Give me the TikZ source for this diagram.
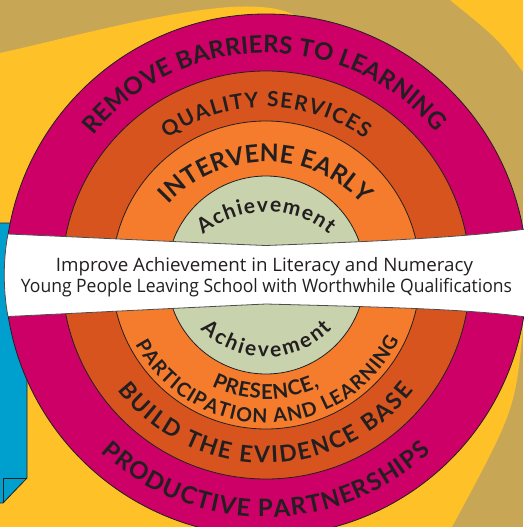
\documentclass[tikz,border=0pt]{standalone}
\usepackage{fontspec}
\usepackage{graphicx}
\usetikzlibrary{decorations.text}
\newfontfamily\ringfont{Lato}
\newfontfamily\bannerfont{Open Sans}

\definecolor{bgtan}{RGB}{199,166,86}
\definecolor{bgyellow}{RGB}{254,194,40}
\definecolor{magentaring}{RGB}{204,0,102}
\definecolor{rustring}{RGB}{216,84,30}
\definecolor{orangering}{RGB}{244,124,44}
\definecolor{sagecore}{RGB}{200,211,173}
\definecolor{tabblue}{RGB}{0,160,206}
\definecolor{ink}{RGB}{35,31,32}

% text set along an arc: centre, radius, start angle, end angle, size, text
\newcommand\ringtext[6]{%
  \path[decorate, decoration={text along path, text align=fit to path,
    text={|\ringfont\bfseries\fontsize{#5}{#5}\selectfont\color{ink}|#6}}]
    ([shift={(#3:#2)}]#1) arc[start angle=#3, end angle=#4, radius=#2];}

\begin{document}
\begin{tikzpicture}[x=1pt, y=1pt,
  ring/.style={draw=ink, line width=0.8pt},
  bannertext/.style={anchor=base, inner sep=0pt, text=ink}]
\useasboundingbox (0,0) rectangle (523,-527);

% centres of the rings and of the flatter text arcs
\coordinate (C) at (266,-275);
\coordinate (Cint) at (266,-295);
\coordinate (Ctop) at (266,-312);
\coordinate (Cbot) at (266,-265);

% background: tan sweep with yellow on both sides
\fill[bgtan] (0,0) rectangle (523,-527);
\fill[bgyellow] (450,0) .. controls (498,-39) .. (523,-72) -- (523,0) -- cycle;
\fill[bgyellow] (0,-53) .. controls (60,-40) and (160,-12) .. (230,-7)
  .. controls (265,-5) and (285,-9) .. (300,-18) -- (C) -- (523,-328)
  .. controls (515,-410) .. (452,-527) -- (0,-527) -- cycle;

% blue tab with folded corner
\draw[fill=tabblue, draw=ink, line width=0.8pt]
  (-2,-223) -- (27,-223) -- (27,-478) -- (3,-503) -- (-2,-503);
\draw[ink, line width=0.8pt] (27,-478) -- (3,-478) -- (3,-503);

% concentric rings
\draw[ring, fill=magentaring] (C) circle[radius=261];
\draw[ring, fill=rustring] (C) circle[radius=204];
\draw[ring, fill=orangering] (C) circle[radius=154];
\draw[ring, fill=sagecore] (C) circle[radius=99];

% white ribbon across the middle
\draw[fill=white, draw=ink!80, line width=0.8pt]
  (8,-234) .. controls (100,-238) and (200,-243) .. (266,-245.5)
  .. controls (360,-242) and (460,-238) .. (526,-229) -- (526,-317)
  .. controls (470,-309) and (380,-307) .. (266,-304)
  .. controls (200,-307) and (100,-312) .. (8,-316.5)
  .. controls (3,-290) and (3,-260) .. (8,-234) -- cycle;

\node[bannertext] (line1) at (264.5,-271)
  {\resizebox{417pt}{\height}{\bannerfont\fontsize{18.5}{18.5}\selectfont Improve Achievement in Literacy and Numeracy}};
\node[bannertext] (line2) at (266.5,-292)
  {\resizebox{491pt}{\height}{\bannerfont\fontsize{18.5}{18.5}\selectfont Young People Leaving School with Worthwhile Qualifications}};

% ring captions, upper half
\ringtext{C}{222}{141}{40}{24}{REMOVE BARRIERS TO LEARNING}
\ringtext{C}{168}{126}{54}{21}{QUALITY SERVICES}
\ringtext{Cint}{133}{137}{43}{24.5}{INTERVENE EARLY}
\ringtext{Ctop}{100}{129}{51}{21}{Achievement}

% ring captions, lower half
\ringtext{Cbot}{92}{-135.5}{-44}{21}{Achievement}
\ringtext{C}{124}{-116}{-64.5}{20.5}{PRESENCE,}
\ringtext{C}{148}{-152}{-26}{19.5}{PARTICIPATION AND LEARNING}
\ringtext{C}{188}{-142}{-38}{23}{BUILD THE EVIDENCE BASE}
\ringtext{C}{242}{-133}{-47}{24}{PRODUCTIVE PARTNERSHIPS}
\end{tikzpicture}
\end{document}
